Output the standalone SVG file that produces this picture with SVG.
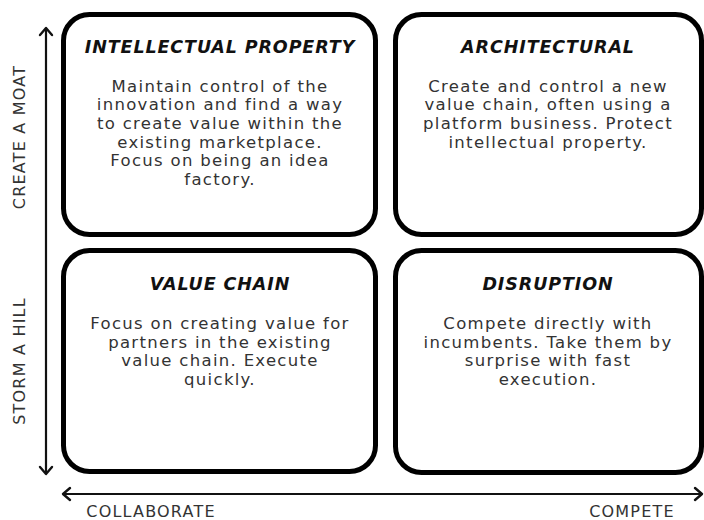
<svg xmlns="http://www.w3.org/2000/svg" width="704" height="520" viewBox="0 0 704 520">
  <style>
    .box { fill: #ffffff; stroke: #000000; stroke-width: 5; }
    .title { font-family: "DejaVu Sans", "Liberation Sans", sans-serif; font-size: 17.5px; font-weight: bold; font-style: italic; fill: #111111; text-anchor: middle; letter-spacing: 0.9px; }
    .body { font-family: "DejaVu Sans", "Liberation Sans", sans-serif; font-size: 16.5px; fill: #333333; text-anchor: middle; letter-spacing: 1.3px; }
    .axis { font-family: "DejaVu Sans", "Liberation Sans", sans-serif; font-size: 16px; fill: #333333; text-anchor: middle; letter-spacing: 1.2px; }
    .axisline { stroke: #111111; stroke-width: 2.2; fill: none; }
    .head { stroke: #111111; stroke-width: 2.4; fill: none; stroke-linecap: round; stroke-linejoin: round; }
  </style>
  <rect width="704" height="520" fill="#ffffff"/>

  <!-- axes -->
  <g id="axes">
    <line class="axisline" x1="46" y1="29" x2="46" y2="473"/>
    <polyline class="head" points="40,35 46,28 52,35"/>
    <polyline class="head" points="40,467 46,474 52,467"/>
    <line class="axisline" x1="64" y1="494" x2="701" y2="494"/>
    <polyline class="head" points="70,488 63,494 70,500"/>
    <polyline class="head" points="695,488 702,494 695,500"/>
    <text class="axis" transform="translate(25,137) rotate(-90)">CREATE A MOAT</text>
    <text class="axis" transform="translate(25,361) rotate(-90)">STORM A HILL</text>
    <text class="axis" x="151" y="517">COLLABORATE</text>
    <text class="axis" x="632" y="517">COMPETE</text>
  </g>

  <!-- quadrant: intellectual property -->
  <g id="intellectual-property">
    <rect class="box" x="63.5" y="14.5" width="312" height="220" rx="26"/>
    <text class="title" x="220" y="53">INTELLECTUAL PROPERTY</text>
    <text class="body" x="220" y="91.5">Maintain control of the</text>
    <text class="body" x="220" y="110.2">innovation and find a way</text>
    <text class="body" x="220" y="128.9">to create value within the</text>
    <text class="body" x="220" y="147.6">existing marketplace.</text>
    <text class="body" x="220" y="166.3">Focus on being an idea</text>
    <text class="body" x="220" y="185">factory.</text>
  </g>

  <!-- quadrant: architectural -->
  <g id="architectural">
    <rect class="box" x="395.5" y="14.5" width="306" height="220" rx="26"/>
    <text class="title" x="548" y="53">ARCHITECTURAL</text>
    <text class="body" x="548" y="91.5">Create and control a new</text>
    <text class="body" x="548" y="110.2">value chain, often using a</text>
    <text class="body" x="548" y="128.9">platform business. Protect</text>
    <text class="body" x="548" y="147.6">intellectual property.</text>
  </g>

  <!-- quadrant: value chain -->
  <g id="value-chain">
    <rect class="box" x="63.5" y="250.5" width="312" height="221" rx="26"/>
    <text class="title" x="220" y="290">VALUE CHAIN</text>
    <text class="body" x="220" y="329">Focus on creating value for</text>
    <text class="body" x="220" y="347.7">partners in the existing</text>
    <text class="body" x="220" y="366.4">value chain. Execute</text>
    <text class="body" x="220" y="385.1">quickly.</text>
  </g>

  <!-- quadrant: disruption -->
  <g id="disruption">
    <rect class="box" x="395.5" y="250.5" width="306" height="222" rx="26"/>
    <text class="title" x="548" y="290">DISRUPTION</text>
    <text class="body" x="548" y="329">Compete directly with</text>
    <text class="body" x="548" y="347.7">incumbents. Take them by</text>
    <text class="body" x="548" y="366.4">surprise with fast</text>
    <text class="body" x="548" y="385.1">execution.</text>
  </g>
</svg>
